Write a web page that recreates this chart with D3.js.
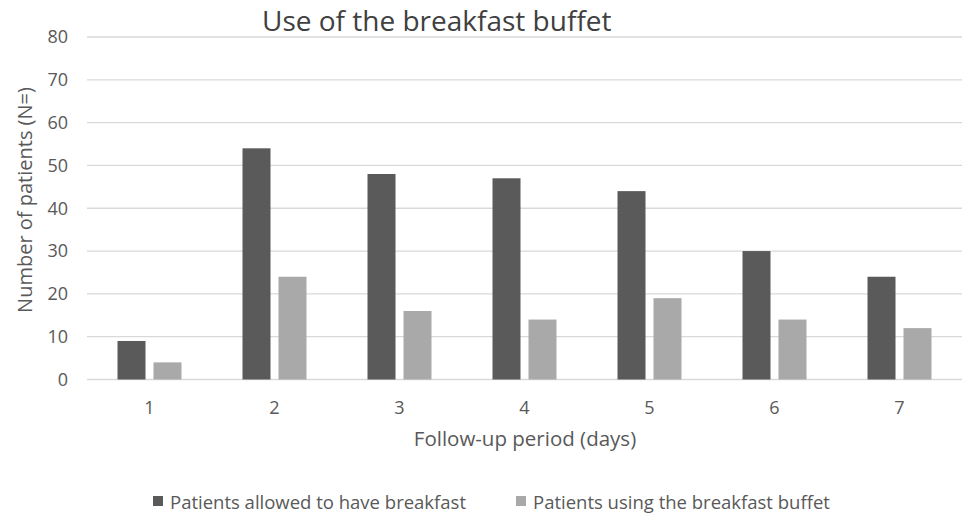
<!DOCTYPE html>
<html lang="en">
<head>
<meta charset="utf-8">
<style>
  body { margin: 0; background: #fff; }
  svg { font-family: "Open Sans", sans-serif; }
</style>
<script src="https://d3js.org/d3.v7.min.js"></script>
</head>
<body>
<svg width="965" height="515"></svg>
<script>

// data
var days = ["1", "2", "3", "4", "5", "6", "7"];
var allowed = [9, 54, 48, 47, 44, 30, 24];
var usingBuffet = [4, 24, 16, 14, 19, 14, 12];
var yTicks = [0, 10, 20, 30, 40, 50, 60, 70, 80];
var seriesNames = ["Patients allowed to have breakfast", "Patients using the breakfast buffet"];
var seriesColors = ["#5a5a5a", "#a9a9a9"];

var svg = d3.select("svg");
var textColor = "#595959";

var plotLeft = 87, plotRight = 962, plotTop = 37, plotBottom = 379.5;

var x0 = d3.scaleBand()
    .domain(days)
    .range([plotLeft, plotRight])
    .paddingInner(0.488)
    .paddingOuter(0.244);

var x1 = d3.scaleBand()
    .domain([0, 1])
    .range([0, x0.bandwidth()])
    .paddingInner(0.222);

var y = d3.scaleLinear()
    .domain([0, 80])
    .range([plotBottom, plotTop]);

// gridlines
svg.append("g")
  .selectAll("line")
  .data(yTicks)
  .enter().append("line")
    .attr("x1", plotLeft)
    .attr("x2", plotRight)
    .attr("y1", function(d) { return y(d); })
    .attr("y2", function(d) { return y(d); })
    .attr("stroke", "#d9d9d9")
    .attr("stroke-width", 1.3);

// y tick labels
svg.append("g")
  .selectAll("text")
  .data(yTicks)
  .enter().append("text")
    .attr("x", 68)
    .attr("y", function(d) { return y(d); })
    .attr("dy", "0.35em")
    .attr("text-anchor", "end")
    .attr("fill", textColor)
    .style("font-size", "18px")
    .text(function(d) { return d; });

// bars
var rows = days.map(function(d, i) { return {day: d, values: [allowed[i], usingBuffet[i]]}; });

var group = svg.append("g")
  .selectAll("g")
  .data(rows)
  .enter().append("g")
    .attr("transform", function(d) { return "translate(" + x0(d.day) + ",0)"; });

group.selectAll("rect")
  .data(function(d) { return d.values.map(function(v, k) { return {k: k, v: v}; }); })
  .enter().append("rect")
    .attr("x", function(d) { return x1(d.k); })
    .attr("width", x1.bandwidth())
    .attr("y", function(d) { return y(d.v); })
    .attr("height", function(d) { return y(0) - y(d.v); })
    .attr("fill", function(d) { return seriesColors[d.k]; });

// x tick labels
svg.append("g")
  .selectAll("text")
  .data(days)
  .enter().append("text")
    .attr("x", function(d) { return x0(d) + x0.bandwidth() / 2; })
    .attr("y", 414)
    .attr("text-anchor", "middle")
    .attr("fill", textColor)
    .style("font-size", "18px")
    .text(function(d) { return d; });

// titles
svg.append("text")
    .attr("x", 262)
    .attr("y", 31)
    .attr("fill", "#404040")
    .style("font-size", "28px")
    .text("Use of the breakfast buffet");

svg.append("text")
    .attr("x", 525)
    .attr("y", 446)
    .attr("text-anchor", "middle")
    .attr("fill", textColor)
    .style("font-size", "20.5px")
    .text("Follow-up period (days)");

svg.append("text")
    .attr("transform", "translate(32,200) rotate(-90)")
    .attr("text-anchor", "middle")
    .attr("fill", textColor)
    .style("font-size", "20px")
    .text("Number of patients (N=)");

// legend
var legendX = [153, 516];
var legend = svg.append("g")
  .selectAll("g")
  .data(seriesNames)
  .enter().append("g")
    .attr("transform", function(d, i) { return "translate(" + legendX[i] + ",509)"; });

legend.append("rect")
    .attr("x", 0)
    .attr("y", -13)
    .attr("width", 10)
    .attr("height", 10)
    .attr("fill", function(d, i) { return seriesColors[i]; });

legend.append("text")
    .attr("x", 17)
    .attr("y", 0)
    .attr("fill", textColor)
    .style("font-size", "18.5px")
    .text(function(d) { return d; });

</script>
</body>
</html>
